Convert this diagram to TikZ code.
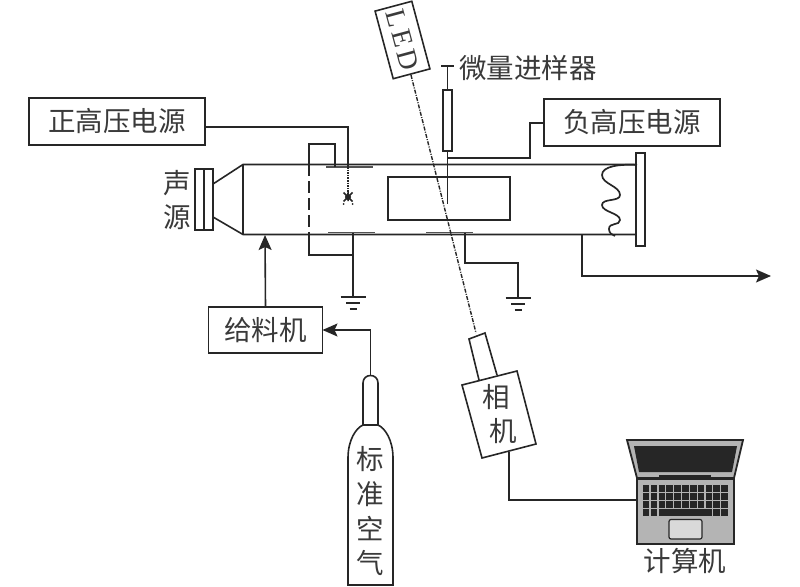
\documentclass[tikz,border=0pt]{standalone}
\usepackage{fontspec}
\usetikzlibrary{arrows.meta}
\setmainfont{Liberation Serif}
\newfontfamily\cjk{Noto Sans CJK SC}
\newfontfamily\ledfont[LetterSpace=14]{Liberation Serif}
\definecolor{ink}{HTML}{262626}
\definecolor{txt}{HTML}{3A3A3A}
\definecolor{lapgrey}{HTML}{B4B4B4}
\definecolor{padgrey}{HTML}{D9D9D9}
\definecolor{lapdark}{HTML}{262626}
\tikzset{
  wire/.style={draw=ink,line width=1.6pt,line join=miter},
  lbl/.style={text=txt,inner sep=0pt,font=\cjk\fontsize{27.5}{27.5}\selectfont},
  labelbox/.style={draw=ink,line width=1.6pt,inner sep=0pt,outer sep=0pt,fill=white,text=txt,font=\cjk\fontsize{27.5}{27.5}\selectfont},
  tip/.style={-{Stealth[length=15pt,width=13pt,inset=3pt]}},
  beam/.style={draw=ink,line width=1.4pt,dash pattern=on 4pt off 1.3pt on 1pt off 1.3pt},
  plate/.style={draw=ink!80,line width=1.7pt},
}
\begin{document}
\begin{tikzpicture}[x=1pt,y=-1pt]
\useasboundingbox (0,0) rectangle (800,586);
% label boxes
\node[labelbox,minimum width=176pt,minimum height=47pt] (pos) at (117,121.5) {正高压电源};
\node[labelbox,minimum width=176pt,minimum height=47pt] (neg) at (632,122.5) {负高压电源};
\node[labelbox,minimum width=114pt,minimum height=46pt] (feed) at (265.5,330) {给料机};
\node[lbl] (inj) at (528,68) {微量进样器};
\node[lbl] (sa) at (177,183) {声};
\node[lbl] (sb) at (177,217) {源};
\node[lbl] (pc) at (685,561) {计算机};
% reference points
\coordinate (tl) at (243,164.5); \coordinate (tr) at (636,164.5);
\coordinate (bl) at (243,234.5); \coordinate (br) at (636,234.5);
\coordinate (coneT) at (213,184); \coordinate (coneB) at (213,217);
\coordinate (needle) at (348,197);
\coordinate (ledEnd) at (411,75); \coordinate (camEnd) at (476,333);
% tube
\draw[wire] (coneT) -- (tl) -- (tr);
\draw[wire] (coneB) -- (bl) -- (br);
\draw[wire] (tl) -- (bl);
% source
\node[draw=ink,line width=1.6pt,inner sep=0pt,outer sep=0pt,minimum width=18pt,minimum height=61pt] (src) at (204,199.5) {};
\draw[wire] (src.north) -- (src.south);
% end plate
\node[draw=ink,line width=1.6pt,inner sep=0pt,outer sep=0pt,fill=white,minimum width=9pt,minimum height=93pt] (endp) at (640.5,199.5) {};
% bellows
\draw[draw=ink,line width=1.7pt] (637,165) .. controls (620,164) and (602,166) .. (602,175)
  .. controls (602,184) and (620,186) .. (620,195)
  .. controls (620,202) and (602,198) .. (602,205)
  .. controls (602,212) and (620,213) .. (620,220)
  .. controls (620,226) and (609,222) .. (609,229)
  .. controls (609,233) and (612,235) .. (615,236);
% centre window
\node[draw=ink,line width=1.6pt,inner sep=0pt,minimum width=122pt,minimum height=43pt] (win) at (449,198.5) {};
% plates
\draw[plate] (326,167) -- (373,167);
\draw[plate] (328,232.5) -- (375,232.5);
\draw[plate] (426,232.5) -- (473,232.5);
% positive HV
\draw[wire] (pos.east |- 0,127) -- (348,127) -- (348,167);
\draw[wire] (335,167) -- (335,144) -- (309,144) -- (309,164);
\draw[draw=ink,line width=1.6pt,dash pattern=on 12pt off 5pt] (309,164) -- (309,234);
\draw[draw=ink,line width=1.6pt,densely dotted] (348,167) -- (needle);
% corona star
\draw[draw=ink,line width=1.5pt] (343.5,192.5) -- (352.5,201.5) (352.5,192.5) -- (343.5,201.5) (348,190) -- (348,201);
\fill[ink] (needle) circle (3pt);
\fill[ink] (343.5,204) circle (1pt) (352.5,204) circle (1pt);
% lower wiring
\coordinate (g1) at (353,297); \coordinate (g2) at (518,298);
\draw[wire] (353,232.5) -- (g1);
\draw[wire] (309,234) -- (309,255) -- (353,255);
\draw[wire] (465,232.5) -- (465,263) -- (518,263) -- (g2);
\foreach \g in {g1,g2}{
  \draw[wire] ([xshift=-12.5pt]\g) -- ([xshift=12.5pt]\g);
  \draw[wire] ([xshift=-7pt,yshift=-6pt]\g) -- ([xshift=7pt,yshift=-6pt]\g);
  \draw[wire] ([xshift=-3.5pt,yshift=-12pt]\g) -- ([xshift=3.5pt,yshift=-12pt]\g);
}
% injector
\node[draw=ink,line width=1.6pt,inner sep=0pt,outer sep=0pt,fill=white,minimum width=9.5pt,minimum height=61pt] (syr) at (447.5,120.5) {};
\coordinate (capL) at (441,66); \coordinate (capR) at (454,66);
\draw[wire] (capL) -- (capR);
\draw[wire] (447.5,66) -- (syr.north);
\draw[wire] (syr.south) -- (447.5,204);
\draw[wire] (447.5,158) -- (530,158) -- (530,123) -- (neg.west |- 0,123);
% LED
\node[draw=ink,line width=1.6pt,inner sep=0pt,outer sep=0pt,minimum width=70pt,minimum height=38pt,rotate=-75,
  font=\ledfont\fontsize{28}{28}\selectfont,text=txt] (led) at (402.5,40) {LED};
\draw[beam] (ledEnd) -- (camEnd);
% outlet
\draw[wire,tip] (582,234) -- (582,276) -- (771,276);
% feeder
\draw[wire,tip] (feed.north) -- (265,235);
% cylinder
\draw[draw=ink,line width=1.6pt] (363,425) -- (363,383) .. controls (363,373) and (378,373) .. (378,383) -- (378,425);
\draw[draw=ink,line width=1.6pt] (348,585) -- (348,458) .. controls (348,440) and (356,428) .. (363,425) -- (378,425) .. controls (385,428) and (393,440) .. (393,458) -- (393,585) -- cycle;
\coordinate (cylTop) at (370.5,375.5);
\draw[wire,tip] (cylTop) -- (370.5,330) -- (feed.east |- 0,330);
\node[lbl] (c1) at (370.5,459) {标};
\node[lbl] (c2) at (370.5,494) {准};
\node[lbl] (c3) at (370.5,528) {空};
\node[lbl] (c4) at (370.5,563) {气};
% camera
\draw[draw=ink,line width=1.6pt] (479,380) -- (469,339) -- (485,333) -- (497,375);
\draw[draw=ink,line width=1.6pt,fill=white] (462,385) -- (517,371) -- (536,444) -- (482,458) -- cycle;
\node[lbl] (cam1) at (496,397) {相};
\node[lbl] (cam2) at (503,431) {机};
% laptop
\draw[draw=ink,line width=1.8pt,fill=lapgrey] (627,440) -- (743,440) -- (734,478) -- (637,478) -- cycle;
\fill[lapdark] (634,446) -- (737,446) -- (732,472) -- (639,472) -- cycle;
\fill[lapdark] (659,475) rectangle (711,479);
\node[draw=ink,line width=1.8pt,fill=lapgrey,inner sep=0pt,outer sep=0pt,minimum width=97pt,minimum height=65pt] (lap) at (685.5,511.5) {};
\foreach \r in {0,1,2}{\foreach \c in {0,...,10}{
  \fill[lapdark] ({642.8+\c*7.85},{485+\r*8}) rectangle ++(6.6,6.8);
}}
\foreach \c in {0,1,9,10}{\fill[lapdark] ({642.8+\c*7.85},509) rectangle ++(6.6,7);}
\fill[lapdark] (659,509) rectangle (711.5,516);
\draw[draw=ink,line width=1.2pt,fill=padgrey,rounded corners=2pt] (669,519.5) rectangle (702,539);
% camera to laptop
\draw[wire] (509,452) -- (509,500) -- (lap.west |- 0,500);
\end{tikzpicture}
\end{document}
